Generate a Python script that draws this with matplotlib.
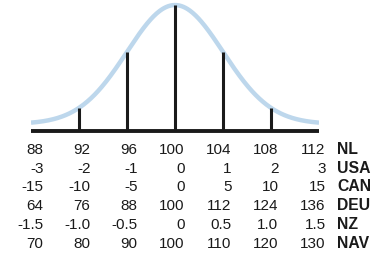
import numpy as np
import matplotlib
matplotlib.use("Agg")
import matplotlib.pyplot as plt

# nilai per negara pada -3..+3 SD
sd_steps = [-3, -2, -1, 0, 1, 2, 3]
nl = ["88", "92", "96", "100", "104", "108", "112"]
usa = ["-3", "-2", "-1", "0", "1", "2", "3"]
can = ["-15", "-10", "-5", "0", "5", "10", "15"]
deu = ["64", "76", "88", "100", "112", "124", "136"]
nz = ["-1.5", "-1.0", "-0.5", "0", "0.5", "1.0", "1.5"]
nav = ["70", "80", "90", "100", "110", "120", "130"]
row_labels = ["NL", "USA", "CAN", "DEU", "NZ", "NAV"]
rows = [nl, usa, can, deu, nz, nav]
line_steps = [-2, -1, 0, 1, 2]

plt.rcParams['font.family'] = ['Liberation Sans', 'DejaVu Sans']

W, H = 385, 257
fig = plt.figure(figsize=(W / 100, H / 100), dpi=100)
ax = fig.add_axes([31 / W, 0, 288 / W, 1])
ax.set_xlim(-3, 3)
ax.set_ylim(-1.0, 1.04)
ax.axis("off")

# kurva normal (sedikit diangkat dari garis dasar)
off = 0.056
z = np.linspace(-3, 3, 400)
curve = off + (1 - off) * np.exp(-z ** 2 / 2)
ax.plot(z, curve, color="#bdd7ec", lw=3.2, solid_capstyle="butt", zorder=1)

# garis vertikal sampai kurva
for s in line_steps:
    top = off + (1 - off) * np.exp(-s ** 2 / 2)
    ax.plot([s, s], [0, top], color="#1a1a1a", lw=2.2, solid_capstyle="butt", zorder=2)

# garis dasar
ax.plot([-3, 3], [0, 0], color="#1a1a1a", lw=2.8, solid_capstyle="butt", zorder=3)

# tabel angka
for r, (vals, lab) in enumerate(zip(rows, row_labels)):
    ybase = 1 - (154 + 18.7 * r) / H
    for i, v in enumerate(vals):
        fig.text((43.5 + 47 * i) / W, ybase, v, ha="right", va="baseline",
                 fontsize=11, color="#1a1a1a")
    fig.text(337 / W, ybase, lab, ha="left", va="baseline",
             fontsize=11.3, fontweight="bold", color="#1a1a1a")

fig.savefig("out.png", dpi=100)
